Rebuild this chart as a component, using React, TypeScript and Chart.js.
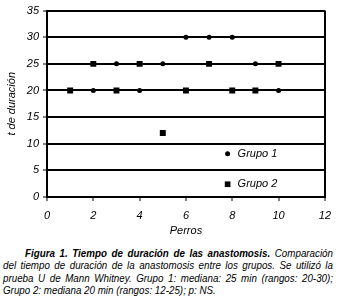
import React, { useEffect, useRef } from 'react';
import { Chart, registerables } from 'chart.js';
Chart.register(...registerables);

const perrosG1 = [2, 3, 4, 5, 6, 7, 8, 9, 10];
const tiempoG1 = [20, 25, 20, 25, 30, 30, 30, 25, 20];
const perrosG2 = [1, 2, 3, 4, 5, 6, 7, 8, 9, 10];
const tiempoG2 = [20, 25, 20, 25, 12, 20, 25, 20, 20, 25];
const seriesNames = ['Grupo 1', 'Grupo 2'];
const xTitle = 'Perros';
const yTitle = 't de duración';
const legendAnchor = { x: 7.8, y1: 8.1, y2: 2.4 };

const captionLines = [
  ['Figura 1. Tiempo de duración de las anastomosis.', ' Comparación'],
  ['', 'del tiempo de duración de la anastomosis entre los grupos. Se utilizó la'],
  ['', 'prueba U de Mann Whitney. Grupo 1: mediana: 25 min (rangos: 20-30);'],
  ['', 'Grupo 2: mediana 20 min (rangos: 12-25); p: NS.'],
];

const FONT = "'Liberation Sans', Arial, sans-serif";
const SQUEEZE = 0.89;

const insideLegend = {
  id: 'insideLegend',
  afterDatasetsDraw(chart: any) {
    const { ctx, scales } = chart;
    const x = scales.x.getPixelForValue(legendAnchor.x);
    const ys = [scales.y.getPixelForValue(legendAnchor.y1), scales.y.getPixelForValue(legendAnchor.y2)];
    ctx.save();
    ctx.fillStyle = '#000';
    ctx.beginPath();
    ctx.arc(x, ys[0], 2.5, 0, Math.PI * 2);
    ctx.fill();
    const h = 4 * Math.SQRT1_2;
    ctx.fillRect(x - h, ys[1] - h, 2 * h, 2 * h);
    ctx.font = `italic 11px ${FONT}`;
    ctx.textBaseline = 'middle';
    ctx.textAlign = 'left';
    ctx.fillText(seriesNames[0], x + 10, ys[0]);
    ctx.fillText(seriesNames[1], x + 10, ys[1]);
    ctx.restore();
  },
};

export default function App() {
  const ref = useRef<HTMLCanvasElement>(null);
  useEffect(() => {
    document.body.style.margin = '0';
    const chart = new Chart(ref.current!, {
      type: 'scatter',
      data: {
        datasets: [
          {
            label: seriesNames[0],
            data: perrosG1.map((x, i) => ({ x, y: tiempoG1[i] })),
            pointStyle: 'circle',
            pointRadius: 2.5,
            backgroundColor: '#000',
            borderColor: '#000',
            borderWidth: 0,
          },
          {
            label: seriesNames[1],
            data: perrosG2.map((x, i) => ({ x, y: tiempoG2[i] })),
            pointStyle: 'rect',
            pointRadius: 4.2,
            backgroundColor: '#000',
            borderColor: '#000',
            borderWidth: 0,
          },
        ],
      },
      options: {
        responsive: false,
        animation: false,
        layout: { padding: { top: 10, right: 13, left: 0, bottom: 0 } },
        plugins: { legend: { display: false }, tooltip: { enabled: false } },
        scales: {
          x: {
            type: 'linear',
            min: 0,
            max: 12,
            ticks: { stepSize: 2, color: '#000', padding: 8, font: { family: FONT, size: 11, style: 'italic' } },
            grid: {
              color: (c: any) => (c.tick && c.tick.value === 12 ? '#000' : 'transparent'),
              lineWidth: 2,
              drawTicks: true,
              tickColor: '#000',
              tickLength: 4,
              tickWidth: 1,
            },
            border: { display: true, color: '#000', width: 2 },
            title: { display: true, text: xTitle, color: '#000', padding: { top: 0, bottom: 2 }, font: { family: FONT, size: 11, style: 'italic' } },
            afterFit: (s: any) => { s.height = 43; },
          },
          y: {
            type: 'linear',
            min: 0,
            max: 35,
            ticks: { stepSize: 5, color: '#000', padding: 4, font: { family: FONT, size: 11, style: 'italic' } },
            grid: { color: '#000', lineWidth: 2, tickLength: 4, tickColor: '#000', tickWidth: 1 },
            border: { display: true, color: '#000', width: 2 },
            title: { display: true, text: yTitle, color: '#000', padding: { top: 5, bottom: 0 }, font: { family: FONT, size: 11, style: 'italic' } },
            afterFit: (s: any) => { s.width = 47; },
          },
        },
      },
      plugins: [insideLegend],
    });
    return () => chart.destroy();
  }, []);

  const innerW = 330 / SQUEEZE;
  return (
    <div style={{ width: 339, background: '#fff', overflow: 'hidden' }}>
      <canvas ref={ref} width={339} height={240} style={{ display: 'block' }} />
      <div style={{ marginTop: 7, paddingLeft: 3, font: `italic 11px ${FONT}`, lineHeight: '12.3px', color: '#000' }}>
        {captionLines.map((ln, i) => (
          <div
            key={i}
            style={{
              width: innerW,
              boxSizing: 'border-box',
              transform: `scaleX(${SQUEEZE})`,
              transformOrigin: 'left top',
              textAlign: 'justify',
              textAlignLast: i < captionLines.length - 1 ? 'justify' : 'left',
              paddingLeft: i === 0 ? 22 / SQUEEZE : 0,
              whiteSpace: 'nowrap',
            }}
          >
            {ln[0] ? <b>{ln[0]}</b> : null}
            {ln[1]}
          </div>
        ))}
      </div>
    </div>
  );
}
